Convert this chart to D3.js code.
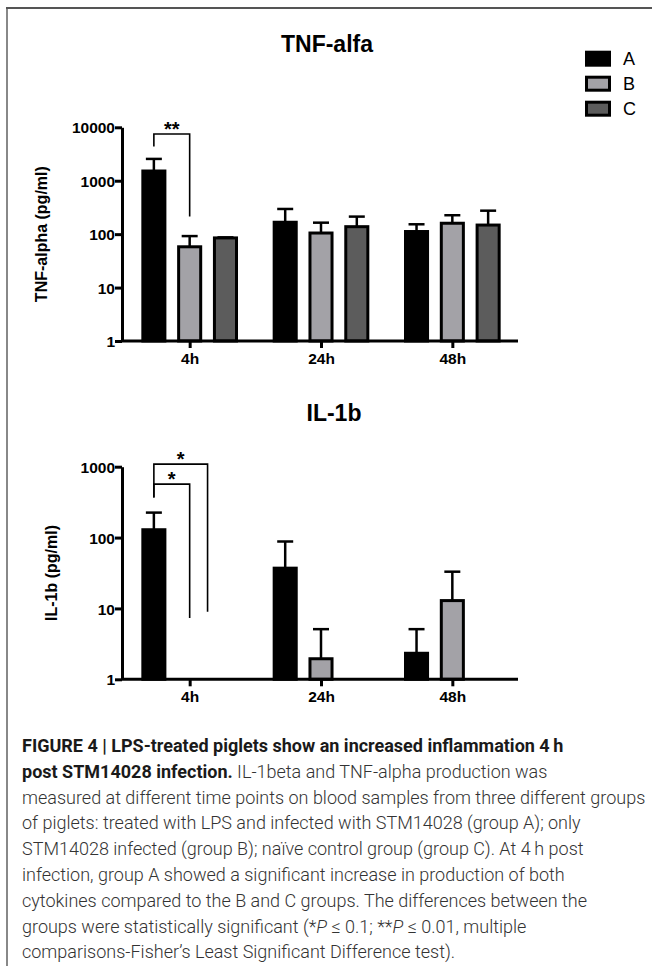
<!DOCTYPE html>
<html>
<head>
<meta charset="utf-8">
<script src="https://cdn.jsdelivr.net/npm/d3@7"></script>
<style>
  body { margin: 0; background: #fff; }
  svg text { font-family: "Liberation Sans", Arial, sans-serif; }
  .caption text { font-family: Roboto, "Liberation Sans", sans-serif; }
</style>
</head>
<body>
<div id="fig"></div>
<script>
// values, per time point, groups A, B, C
const times = ["4h", "24h", "48h"];
const groups = ["A", "B", "C"];
const fills = ["#000000", "#a3a2a7", "#5c5c5c"];

const tnfMean  = [[1520, 58, 85], [167, 105, 138], [112, 160, 148]];
const tnfUpper = [[2560, 92, 87], [296, 164, 213], [153, 226, 275]];
const tnfTicks = [1, 10, 100, 1000, 10000];

const ilMean  = [[129, null, null], [37, 1.95, null], [2.33, 12.9, null]];
const ilUpper = [[225, null, null], [88, 5.1, null], [5.1, 33, null]];
const ilTicks = [1, 10, 100, 1000];

// significance brackets: bar index from/to, heights in pg/ml
const tnfBrackets = [
  { time: "4h", from: 0, to: 1, top: 7500, left: 4350, right: 213, label: "**" }
];
const ilBrackets = [
  { time: "4h", from: 0, to: 1.5, top: 1088, left: 367, right: 9.0, label: "*" },
  { time: "4h", from: 0, to: 1, top: 568, left: 367, right: 7.3, label: "*" }
];

const W = 652, H = 966;
const svg = d3.select("#fig").append("svg")
  .attr("width", W)
  .attr("height", H);

// frame
svg.append("line").attr("x1", 7).attr("x2", 7).attr("y1", 8).attr("y2", H)
  .attr("stroke", "#888").attr("stroke-width", 2);
svg.append("line").attr("x1", 6).attr("x2", W).attr("y1", 8).attr("y2", 8)
  .attr("stroke", "#555").attr("stroke-width", 2);

const x0 = d3.scalePoint().domain(times).range([124, 518]).padding(0.5);
const x1 = d3.scaleBand().domain(groups).range([-53.7, 53.7]).paddingInner(0.3).paddingOuter(0.15);
const bw = x1.bandwidth();
const xi = d3.scaleLinear().domain([0, 2]).range([x1("A") + bw / 2, x1("C") + bw / 2]);

function panel(opts) {
  const { mean, upper, ticks, brackets, yTop, yBottom, yLabel, labelX, title, titleX, titleY } = opts;
  const y = d3.scaleLog().domain([1, ticks[ticks.length - 1]]).range([yBottom, yTop]);
  const g = svg.append("g");

  svg.append("text")
    .attr("x", titleX).attr("y", titleY)
    .attr("text-anchor", "middle")
    .attr("font-weight", "bold")
    .attr("font-size", 23)
    .text(title);

  g.append("text")
    .attr("transform", "rotate(-90)")
    .attr("x", -(yTop + yBottom) / 2)
    .attr("y", labelX)
    .attr("text-anchor", "middle")
    .attr("font-weight", "bold")
    .attr("font-size", 16)
    .text(yLabel);

  // bars + error bars
  times.forEach((t, ti) => {
    groups.forEach((k, gi) => {
      const v = mean[ti][gi];
      if (v == null) return;
      const cx = x0(t) + x1(k) + bw / 2;
      const up = upper[ti][gi];
      g.append("line")
        .attr("x1", cx).attr("x2", cx)
        .attr("y1", y(v)).attr("y2", y(up))
        .attr("stroke", "#000").attr("stroke-width", 2.5);
      g.append("line")
        .attr("x1", cx - 8).attr("x2", cx + 8)
        .attr("y1", y(up)).attr("y2", y(up))
        .attr("stroke", "#000").attr("stroke-width", 2.5);
      g.append("rect")
        .attr("x", x0(t) + x1(k) + 1.5)
        .attr("y", y(v))
        .attr("width", bw - 3)
        .attr("height", y(1) - y(v))
        .attr("fill", fills[gi])
        .attr("stroke", "#000")
        .attr("stroke-width", 3);
    });
  });

  // axes
  const ya = g.append("g")
    .attr("transform", "translate(122,0)")
    .call(d3.axisLeft(y).tickValues(ticks).tickFormat(d3.format("d")).tickSize(7).tickSizeOuter(0));
  const xa = g.append("g")
    .attr("transform", `translate(0,${yBottom})`)
    .call(d3.axisBottom(x0).tickSize(7).tickSizeOuter(0));
  xa.select(".domain").attr("d", "M122,0H518");
  [ya, xa].forEach(a => {
    a.select(".domain").attr("stroke-width", 3);
    a.selectAll(".tick line").attr("stroke-width", 3);
    a.selectAll(".tick text")
      .attr("font-family", "Liberation Sans, Arial, sans-serif")
      .attr("font-weight", "bold")
      .attr("font-size", 15.5)
      .attr("fill", "#000");
  });
  ya.selectAll(".tick text").attr("x", -7).attr("dy", "0.36em");
  xa.selectAll(".tick text").attr("y", 12);

  // significance brackets
  brackets.forEach(b => {
    const xl = x0(b.time) + xi(b.from), xr = x0(b.time) + xi(b.to);
    g.append("path")
      .attr("d", `M${xl},${y(b.left)}V${y(b.top)}H${xr}V${y(b.right)}`)
      .attr("fill", "none")
      .attr("stroke", "#000")
      .attr("stroke-width", 1.6);
    g.append("text")
      .attr("x", (xl + xr) / 2)
      .attr("y", y(b.top) + 2)
      .attr("text-anchor", "middle")
      .attr("font-weight", "bold")
      .attr("font-size", 20)
      .text(b.label);
  });
}

panel({
  mean: tnfMean, upper: tnfUpper, ticks: tnfTicks, brackets: tnfBrackets,
  yTop: 127.3, yBottom: 341, yLabel: "TNF-alpha (pg/ml)", labelX: 47,
  title: "TNF-alfa", titleX: 327, titleY: 52
});
panel({
  mean: ilMean, upper: ilUpper, ticks: ilTicks, brackets: ilBrackets,
  yTop: 466.7, yBottom: 679.3, yLabel: "IL-1b (pg/ml)", labelX: 57,
  title: "IL-1b", titleX: 334, titleY: 421
});

// legend
const legend = svg.append("g").attr("transform", "translate(585,50.7)");
groups.forEach((k, i) => {
  legend.append("rect")
    .attr("x", 1.5).attr("y", i * 25 + 1.5)
    .attr("width", 23).attr("height", 13)
    .attr("fill", fills[i])
    .attr("stroke", "#000")
    .attr("stroke-width", 3);
  legend.append("text")
    .attr("x", 38).attr("y", i * 25 + 14.5)
    .attr("font-size", 18)
    .text(k);
});

// caption
const captionLines = [
  [["b", "FIGURE 4 | LPS-treated piglets show an increased inflammation 4\u2009h"]],
  [["b", "post STM14028 infection."], ["r", " IL-1beta and TNF-alpha production was"]],
  [["r", "measured at different time points on blood samples from three different groups"]],
  [["r", "of piglets: treated with LPS and infected with STM14028 (group A); only"]],
  [["r", "STM14028 infected (group B); na\u00efve control group (group C). At 4\u2009h post"]],
  [["r", "infection, group A showed a significant increase in production of both"]],
  [["r", "cytokines compared to the B and C groups. The differences between the"]],
  [["r", "groups were statistically significant (*"], ["i", "P"], ["r", " \u2264 0.1; **"], ["i", "P"], ["r", " \u2264 0.01, multiple"]],
  [["r", "comparisons-Fisher\u2019s Least Significant Difference test)."]]
];
const cap = svg.append("g").attr("class", "caption");
captionLines.forEach((parts, i) => {
  const t = cap.append("text")
    .attr("x", 22)
    .attr("y", 752 + i * 25.8)
    .attr("font-size", 18);
  parts.forEach(([s, str]) => {
    t.append("tspan")
      .attr("font-weight", s === "b" ? 700 : 300)
      .attr("font-style", s === "i" ? "italic" : "normal")
      .attr("fill", s === "b" ? "#1a1a1a" : "#333")
      .text(str);
  });
});
</script>
</body>
</html>
